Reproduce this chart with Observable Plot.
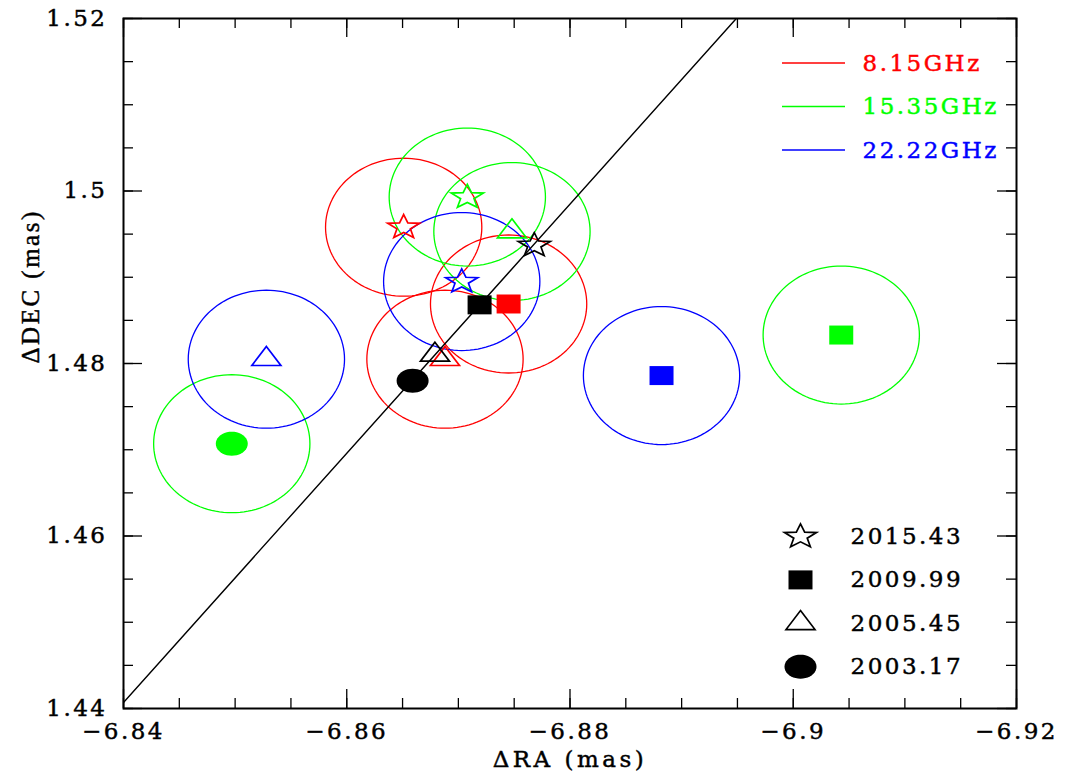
<!DOCTYPE html>
<html>
<head>
<meta charset="utf-8">
<script src="https://cdn.jsdelivr.net/npm/d3@7"></script>
<script src="https://cdn.jsdelivr.net/npm/@observablehq/plot@0.6"></script>
<style>
  html, body { margin: 0; padding: 0; background: #ffffff; }
  #chart svg { display: block; }
</style>
</head>
<body>
<div id="chart"></div>
<script>
// Frequency bands and their colours; "all" marks the combined positions (black).
const bandNames = ["8.15GHz", "15.35GHz", "22.22GHz", "all"];
const bandColors = ["#ff0000", "#00ff00", "#0000ff", "#000000"];

// Observing epochs, in legend order.
const epochNames = ["2015.43", "2009.99", "2005.45", "2003.17"];

// Measured positions (mas) per band and epoch.
const posBand = [
  "8.15GHz", "8.15GHz", "8.15GHz",
  "15.35GHz", "15.35GHz", "15.35GHz", "15.35GHz",
  "22.22GHz", "22.22GHz", "22.22GHz",
  "all", "all", "all", "all"
];
const posEpoch = [
  "2015.43", "2009.99", "2005.45",
  "2015.43", "2005.45", "2009.99", "2003.17",
  "2015.43", "2005.45", "2009.99",
  "2015.43", "2009.99", "2005.45", "2003.17"
];
const posRA = [
  -6.8651, -6.8745, -6.8688,
  -6.8708, -6.8748, -6.9043, -6.8497,
  -6.8703, -6.8528, -6.8882,
  -6.8768, -6.8719, -6.8679, -6.8659
];
const posDEC = [
  1.4958, 1.4869, 1.4805,
  1.4993, 1.4953, 1.4833, 1.4707,
  1.4895, 1.4805, 1.4786,
  1.4937, 1.4868, 1.4810, 1.4780
];

// Position uncertainty (mas) drawn as a ring around each band position.
const errRA = 0.007;
const errDEC = 0.008;

// Straight line through the combined positions.
const fitRA = [-6.84, -6.8949];
const fitDEC = [1.4407, 1.52];

// Labelled axis ticks.
const xTickValues = [-6.84, -6.86, -6.88, -6.9, -6.92];
const yTickValues = [1.44, 1.46, 1.48, 1.5, 1.52];

const table = posRA.map((ra, i) => ({ra, dec: posDEC[i], band: posBand[i], epoch: posEpoch[i]}));

// Error rings, sampled around each coloured position.
const ringSteps = 120;
const rings = [];
table.forEach((d, i) => {
  if (d.band === "all") return;
  for (let k = 0; k < ringSteps; k++) {
    const t = (2 * Math.PI * k) / ringSteps;
    rings.push({id: i, band: d.band, ra: d.ra + errRA * Math.cos(t), dec: d.dec + errDEC * Math.sin(t)});
  }
});

// Marker shapes (pixel sized, slightly wider than tall).
function polygon(ctx, pts) {
  ctx.moveTo(pts[0][0], pts[0][1]);
  for (let i = 1; i < pts.length; i++) ctx.lineTo(pts[i][0], pts[i][1]);
  ctx.closePath();
}
const starSym = {draw(ctx) {
  const pts = [];
  for (let i = 0; i < 10; i++) {
    const a = -Math.PI / 2 + (i * Math.PI) / 5;
    const r = i % 2 ? 0.42 : 1;
    pts.push([Math.cos(a) * r * 16.8, Math.sin(a) * r * 12.7]);
  }
  polygon(ctx, pts);
}};
const squareSym = {draw(ctx) { polygon(ctx, [[-12, -9.5], [12, -9.5], [12, 9.5], [-12, 9.5]]); }};
const triangleSym = {draw(ctx) { polygon(ctx, [[0, -12.7], [14.5, 6.3], [-14.5, 6.3]]); }};
const discSym = {draw(ctx) {
  const pts = [];
  for (let i = 0; i < 40; i++) {
    const a = (2 * Math.PI * i) / 40;
    pts.push([Math.cos(a) * 16, Math.sin(a) * 12]);
  }
  polygon(ctx, pts);
}};
const epochSymbol = {"2015.43": starSym, "2009.99": squareSym, "2005.45": triangleSym, "2003.17": discSym};
const epochFilled = {"2015.43": false, "2009.99": true, "2005.45": false, "2003.17": true};

// Frame geometry.
const W = 1068, H = 776;
const mL = 123, mR = 52, mT = 18, mB = 68;
const plotW = W - mL - mR, plotH = H - mT - mB;
const majorLen = 19, minorLen = 10;

const xMinor = d3.range(0, 17).map(k => -6.84 - 0.005 * k);
const yMinor = d3.range(0, 17).map(k => 1.44 + 0.005 * k);

const fmt = d => (d < 0 ? "\u2212" : "") + String(+Math.abs(d).toFixed(2));

function markFor(e, data) {
  const base = {x: "ra", y: "dec", symbol: epochSymbol[e]};
  return epochFilled[e]
    ? Plot.dot(data, {...base, fill: "band", stroke: "none"})
    : Plot.dot(data, {...base, stroke: "band", fill: "none", strokeWidth: 1.7});
}

// Legend: bands (top right) and epochs (bottom right).
const bandLegendLines = (index, scales, values, dims) => {
  const g = d3.create("svg:g");
  bandNames.slice(0, 3).forEach((b, i) => {
    const y = dims.marginTop + 45 + 43.5 * i;
    g.append("line")
      .attr("x1", dims.marginLeft + 659).attr("x2", dims.marginLeft + 722)
      .attr("y1", y).attr("y2", y)
      .attr("stroke", bandColors[i]).attr("stroke-width", 1.3);
  });
  return g.node();
};

const legendMarks = [];
bandNames.slice(0, 3).forEach((b, i) => {
  legendMarks.push(Plot.text([b], {
    text: d => d, frameAnchor: "top-left", dx: 739, dy: 45 + 43.5 * i,
    textAnchor: "start", lineAnchor: "middle", fill: bandColors[i]
  }));
});
epochNames.forEach((e, i) => {
  const dy = 518 + 43.4 * i;
  legendMarks.push(epochFilled[e]
    ? Plot.dot([e], {frameAnchor: "top-left", dx: 677, dy, symbol: epochSymbol[e], fill: "#000", stroke: "none"})
    : Plot.dot([e], {frameAnchor: "top-left", dx: 677, dy, symbol: epochSymbol[e], stroke: "#000", fill: "none", strokeWidth: 1.7}));
  legendMarks.push(Plot.text([e], {
    text: d => d, frameAnchor: "top-left", dx: 727, dy,
    textAnchor: "start", lineAnchor: "middle", fill: "#000"
  }));
});

const chart = Plot.plot({
  width: W, height: H,
  marginLeft: mL, marginRight: mR, marginTop: mT, marginBottom: mB,
  style: {fontFamily: "'DejaVu Serif', serif", fontSize: "23px", letterSpacing: "2.5px", color: "#000", background: "#fff"},
  x: {domain: [-6.84, -6.92], label: null},
  y: {domain: [1.44, 1.52], label: null},
  color: {domain: bandNames, range: bandColors},
  marks: [
    // error rings
    Plot.line(rings, {x: "ra", y: "dec", z: "id", stroke: "band", strokeWidth: 1.3, curve: "linear-closed"}),
    // line through the combined positions
    Plot.line(fitRA.map((r, i) => ({ra: r, dec: fitDEC[i]})), {x: "ra", y: "dec", stroke: "#000", strokeWidth: 1.4, clip: true}),
    // markers per epoch
    ...epochNames.map(e => markFor(e, table.filter(d => d.epoch === e))),
    // inward ticks on all four sides
    Plot.ruleX(xMinor, {insetTop: plotH - minorLen, stroke: "#000", strokeWidth: 1.3}),
    Plot.ruleX(xMinor, {insetBottom: plotH - minorLen, stroke: "#000", strokeWidth: 1.3}),
    Plot.ruleX(xTickValues, {insetTop: plotH - majorLen, stroke: "#000", strokeWidth: 1.3}),
    Plot.ruleX(xTickValues, {insetBottom: plotH - majorLen, stroke: "#000", strokeWidth: 1.3}),
    Plot.ruleY(yMinor, {insetRight: plotW - minorLen, stroke: "#000", strokeWidth: 1.3}),
    Plot.ruleY(yMinor, {insetLeft: plotW - minorLen, stroke: "#000", strokeWidth: 1.3}),
    Plot.ruleY(yTickValues, {insetRight: plotW - majorLen, stroke: "#000", strokeWidth: 1.3}),
    Plot.ruleY(yTickValues, {insetLeft: plotW - majorLen, stroke: "#000", strokeWidth: 1.3}),
    Plot.frame({stroke: "#000", strokeWidth: 2}),
    // tick labels
    Plot.axisX(xTickValues, {anchor: "bottom", tickSize: 0, tickPadding: 14, tickFormat: fmt, label: null}),
    Plot.axisY(yTickValues, {anchor: "left", tickSize: 0, tickPadding: 16, tickFormat: fmt, label: null}),
    // axis titles
    Plot.text(["\u0394RA (mas)"], {text: d => d, frameAnchor: "bottom", dy: 51, lineAnchor: "middle"}),
    Plot.text(["\u0394DEC (mas)"], {text: d => d, frameAnchor: "left", dx: -93, rotate: -90, lineAnchor: "middle",
      fontFamily: "'Liberation Serif', serif", fontSize: 25}),
    // legends
    bandLegendLines,
    ...legendMarks
  ]
});

document.getElementById("chart").appendChild(chart);

// Heavier glyph strokes: outline every label in its own fill colour.
d3.select(chart).selectAll("text").each(function () {
  const fill = getComputedStyle(this).fill;
  this.style.stroke = fill;
  this.style.strokeWidth = "0.45px";
});
// Slightly wider spacing for the horizontal axis title.
d3.select(chart).selectAll("text").filter(function () { return this.textContent === "\u0394RA (mas)"; })
  .style("letter-spacing", "3.5px");
</script>
</body>
</html>
